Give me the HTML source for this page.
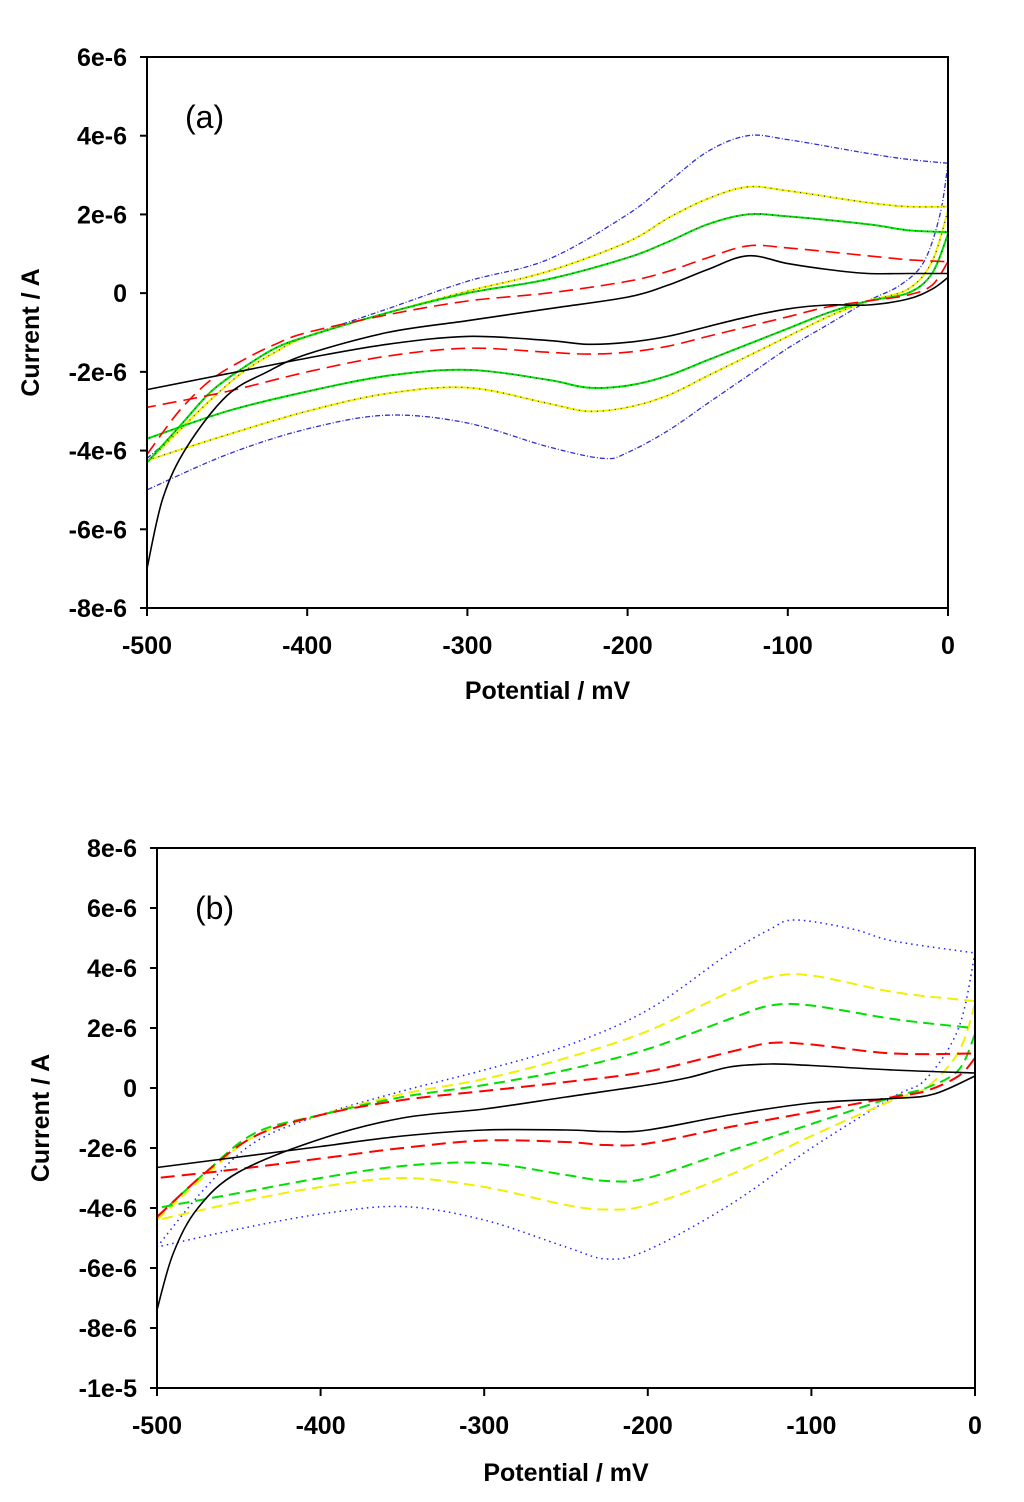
<!DOCTYPE html>
<html><head><meta charset="utf-8"><style>
body{margin:0;background:#fff;}
svg{display:block;font-family:"Liberation Sans",Arial,sans-serif;}
.tl{font-size:25px;font-weight:bold;}
</style></head><body>
<svg id="c" width="1024" height="1502"></svg>
<script>
// Panel (a) data: [potential mV, current 1e-6 A]
const aBlackF=[[-500,-7],[-490,-5.2],[-475,-3.9],[-450,-2.6],[-425,-2.0],[-400,-1.55],[-350,-1.0],[-300,-0.7],[-250,-0.4],[-200,-0.1],[-175,0.2],[-150,0.6],[-125,0.95],[-100,0.75],[-75,0.6],[-50,0.5],[-25,0.5],[0,0.5]];
const aBlackR=[[0,0.4],[-10,0.1],[-25,-0.15],[-50,-0.3],[-75,-0.3],[-100,-0.4],[-125,-0.6],[-150,-0.85],[-175,-1.1],[-200,-1.25],[-225,-1.3],[-250,-1.2],[-300,-1.1],[-350,-1.3],[-400,-1.65],[-450,-2.05],[-500,-2.45]];
const aRedF=[[-500,-4.1],[-480,-3.0],[-460,-2.2],[-440,-1.7],[-420,-1.3],[-400,-1.0],[-350,-0.55],[-300,-0.2],[-250,0.0],[-200,0.3],[-175,0.55],[-150,0.9],[-125,1.2],[-100,1.15],[-50,0.95],[-25,0.85],[0,0.8]];
const aRedR=[[0,0.8],[-10,0.2],[-25,-0.05],[-50,-0.2],[-75,-0.35],[-100,-0.6],[-125,-0.85],[-150,-1.1],[-175,-1.35],[-200,-1.5],[-225,-1.55],[-250,-1.5],[-300,-1.4],[-350,-1.6],[-400,-2.0],[-450,-2.5],[-500,-2.9]];
const aGreenF=[[-500,-4.3],[-480,-3.4],[-460,-2.5],[-440,-1.9],[-420,-1.4],[-400,-1.1],[-350,-0.5],[-300,0.0],[-250,0.35],[-200,0.9],[-175,1.3],[-150,1.75],[-125,2.0],[-100,1.95],[-50,1.75],[-25,1.6],[0,1.55]];
const aGreenR=[[0,1.5],[-10,0.5],[-25,0.0],[-50,-0.2],[-75,-0.5],[-100,-0.9],[-125,-1.3],[-150,-1.7],[-175,-2.1],[-200,-2.35],[-225,-2.4],[-250,-2.2],[-300,-1.95],[-350,-2.1],[-400,-2.5],[-450,-3.0],[-500,-3.7]];
const aYellowF=[[-500,-4.3],[-480,-3.5],[-460,-2.7],[-440,-2.0],[-420,-1.5],[-400,-1.1],[-350,-0.5],[-300,0.05],[-250,0.55],[-200,1.3],[-175,1.9],[-150,2.4],[-125,2.7],[-100,2.6],[-50,2.3],[-25,2.2],[0,2.2]];
const aYellowR=[[0,2.1],[-10,0.8],[-25,0.1],[-50,-0.2],[-75,-0.6],[-100,-1.1],[-125,-1.6],[-150,-2.1],[-175,-2.6],[-200,-2.9],[-225,-3.0],[-250,-2.8],[-300,-2.4],[-350,-2.55],[-400,-3.0],[-450,-3.6],[-500,-4.25]];
const aBlueF=[[-500,-4.2],[-480,-3.5],[-460,-2.7],[-440,-2.0],[-420,-1.5],[-400,-1.1],[-350,-0.4],[-300,0.3],[-250,0.85],[-200,2.0],[-175,2.8],[-150,3.6],[-125,4.0],[-100,3.9],[-50,3.55],[-25,3.4],[0,3.3]];
const aBlueR=[[0,3.3],[-5,2.0],[-15,0.8],[-30,0.2],[-50,-0.2],[-75,-0.8],[-100,-1.4],[-125,-2.1],[-150,-2.8],[-175,-3.5],[-200,-4.05],[-215,-4.2],[-250,-3.9],[-300,-3.3],[-350,-3.1],[-400,-3.45],[-450,-4.1],[-500,-5.0]];
// Panel (b) data
const bBlackF=[[-500,-7.4],[-490,-5.5],[-475,-4.0],[-450,-2.8],[-400,-1.7],[-350,-1.0],[-300,-0.7],[-250,-0.3],[-200,0.1],[-175,0.35],[-150,0.7],[-125,0.8],[-100,0.75],[-50,0.6],[0,0.5]];
const bBlackR=[[0,0.4],[-25,-0.2],[-50,-0.35],[-100,-0.5],[-150,-0.9],[-200,-1.4],[-225,-1.45],[-250,-1.4],[-300,-1.4],[-350,-1.6],[-400,-1.95],[-450,-2.3],[-500,-2.65]];
const bRedF=[[-500,-4.3],[-470,-2.8],[-440,-1.6],[-400,-0.9],[-350,-0.4],[-300,-0.1],[-250,0.2],[-200,0.55],[-150,1.2],[-125,1.5],[-100,1.45],[-50,1.15],[0,1.15]];
const bRedR=[[0,1.0],[-10,0.4],[-30,-0.1],[-50,-0.3],[-100,-0.8],[-150,-1.3],[-200,-1.85],[-225,-1.9],[-250,-1.8],[-300,-1.75],[-350,-2.0],[-400,-2.35],[-450,-2.7],[-500,-3.0]];
const bGreenF=[[-500,-4.3],[-470,-2.8],[-440,-1.5],[-400,-0.9],[-350,-0.3],[-300,0.1],[-250,0.6],[-200,1.3],[-150,2.3],[-125,2.75],[-100,2.75],[-50,2.3],[-10,2.05],[0,2.0]];
const bGreenR=[[0,1.8],[-10,0.6],[-30,0],[-50,-0.3],[-100,-1.2],[-150,-2.1],[-200,-3.0],[-225,-3.1],[-250,-2.9],[-300,-2.5],[-350,-2.6],[-400,-3.0],[-450,-3.5],[-500,-4.0]];
const bYellowF=[[-500,-4.4],[-470,-2.9],[-440,-1.6],[-400,-0.9],[-350,-0.2],[-300,0.3],[-250,1.0],[-200,1.9],[-150,3.2],[-125,3.7],[-100,3.75],[-50,3.2],[-10,2.95],[0,2.9]];
const bYellowR=[[0,2.8],[-10,1.2],[-30,0],[-50,-0.4],[-100,-1.6],[-150,-2.9],[-200,-3.9],[-225,-4.05],[-250,-3.9],[-300,-3.3],[-350,-3.0],[-400,-3.3],[-450,-3.8],[-500,-4.4]];
const bBlueF=[[-500,-5.3],[-470,-3.3],[-440,-1.8],[-400,-0.9],[-350,-0.1],[-300,0.6],[-250,1.4],[-200,2.6],[-150,4.5],[-125,5.3],[-110,5.6],[-75,5.3],[-50,4.9],[0,4.5]];
const bBlueR=[[0,4.5],[-10,2.0],[-30,0.3],[-50,-0.3],[-100,-2.0],[-150,-3.9],[-200,-5.4],[-225,-5.7],[-250,-5.3],[-300,-4.4],[-350,-3.95],[-400,-4.2],[-450,-4.7],[-500,-5.3]];
const xTicks=[-500,-400,-300,-200,-100,0];
const aYTicks=[6,4,2,0,-2,-4,-6,-8];
const aYLabels=["6e-6","4e-6","2e-6","0","-2e-6","-4e-6","-6e-6","-8e-6"];
const bYTicks=[8,6,4,2,0,-2,-4,-6,-8,-10];
const bYLabels=["8e-6","6e-6","4e-6","2e-6","0","-2e-6","-4e-6","-6e-6","-8e-6","-1e-5"];

const NS="http://www.w3.org/2000/svg";
const svg=document.getElementById('c');
function mk(tag,attrs,parent){const e=document.createElementNS(NS,tag);for(const k in attrs)e.setAttribute(k,attrs[k]);(parent||svg).appendChild(e);return e;}
function smooth(pts){let d="M"+pts[0][0].toFixed(1)+","+pts[0][1].toFixed(1);
 for(let i=0;i<pts.length-1;i++){const p0=pts[Math.max(0,i-1)],p1=pts[i],p2=pts[i+1],p3=pts[Math.min(pts.length-1,i+2)];
  const c1=[p1[0]+(p2[0]-p0[0])/6,p1[1]+(p2[1]-p0[1])/6],c2=[p2[0]-(p3[0]-p1[0])/6,p2[1]-(p3[1]-p1[1])/6];
  d+=" C"+c1[0].toFixed(1)+","+c1[1].toFixed(1)+" "+c2[0].toFixed(1)+","+c2[1].toFixed(1)+" "+p2[0].toFixed(1)+","+p2[1].toFixed(1);}
 return d;}
function panel(cfg){
 const g=mk('g',{});
 
 
 const xs=v=>cfg.l+(v+500)/500*(cfg.r-cfg.l);
 const ys=v=>cfg.t+(cfg.ymax-v)/(cfg.ymax-cfg.ymin)*(cfg.b-cfg.t);
 cfg.series.forEach(s=>{
  [s.f,s.r].forEach((arr,i)=>{
   const p=mk('path',{d:smooth(arr.map(q=>[xs(q[0]),ys(q[1])])),fill:'none',stroke:s.c,'stroke-width':s.w||1.6,'stroke-dasharray':s.da||'none'},g);
   
   
   if(s.c2){const p2=mk('path',{d:smooth(arr.map(q=>[xs(q[0]),ys(q[1])])),fill:'none',stroke:s.c2,'stroke-width':1.2,'stroke-dasharray':s.da2},g);
    
    }
  });
 });
 const fr=mk('rect',{x:cfg.l,y:cfg.t,width:cfg.r-cfg.l,height:cfg.b-cfg.t,fill:'none',stroke:'#000','stroke-width':2},g);
 
 
 cfg.yt.forEach((v,i)=>{const y=ys(v);
  mk('line',{x1:cfg.l-7,x2:cfg.l,y1:y,y2:y,stroke:'#000','stroke-width':2},g);
  const t=mk('text',{x:cfg.l-20,y:y+9,'text-anchor':'end',class:'tl'},g);t.textContent=cfg.yl[i];
  
  });
 xTicks.forEach(v=>{const x=xs(v);
  mk('line',{x1:x,x2:x,y1:cfg.b,y2:cfg.b+8,stroke:'#000','stroke-width':2},g);
  const t=mk('text',{x:x,y:cfg.b+46,'text-anchor':'middle',class:'tl'},g);t.textContent=v;
  
  });
 const xt=mk('text',{x:(cfg.l+cfg.r)/2,y:cfg.xty,'text-anchor':'middle',class:'tl'},g);xt.textContent='Potential / mV';
 
 
 const cy=(cfg.t+cfg.b)/2;
 const yt=mk('text',{x:cfg.ytx,y:cy,'text-anchor':'middle',class:'tl',transform:'rotate(-90 '+cfg.ytx+' '+cy+')'},g);yt.textContent='Current / A';
 
 
 const pl=mk('text',{x:cfg.l+38,y:cfg.t+71,'font-size':'32px'},g);pl.textContent=cfg.label;
 
 
}
panel({name:'panel-a',l:147,r:948,t:57,b:608,ymax:6,ymin:-8,yt:aYTicks,yl:aYLabels,xty:699,ytx:39,label:'(a)',
 series:[
  {n:'blue-series',f:aBlueF,r:aBlueR,c:'#3030d0',w:1.3,da:'5,2,1,2'},
  {n:'yellow-series',f:aYellowF,r:aYellowR,c:'#f0f000',w:2,c2:'#333',da2:'1,5'},
  {n:'green-series',f:aGreenF,r:aGreenR,c:'#00e000',w:2,c2:'#333',da2:'1,5'},
  {n:'red-series',f:aRedF,r:aRedR,c:'#ff0000',w:1.6,da:'14,7'},
  {n:'black-series',f:aBlackF,r:aBlackR,c:'#000',w:1.6}]});
panel({name:'panel-b',l:157,r:975,t:848,b:1388,ymax:8,ymin:-10,yt:bYTicks,yl:bYLabels,xty:1481,ytx:49,label:'(b)',
 series:[
  {n:'blue-series',f:bBlueF,r:bBlueR,c:'#2020ff',w:1.5,da:'1.5,4'},
  {n:'yellow-series',f:bYellowF,r:bYellowR,c:'#f0f000',w:2,da:'11,6'},
  {n:'green-series',f:bGreenF,r:bGreenR,c:'#00e000',w:2,da:'11,6'},
  {n:'red-series',f:bRedF,r:bRedR,c:'#ff0000',w:2,da:'14,7'},
  {n:'black-series',f:bBlackF,r:bBlackR,c:'#000',w:1.6}]});
</script>
</body></html>
